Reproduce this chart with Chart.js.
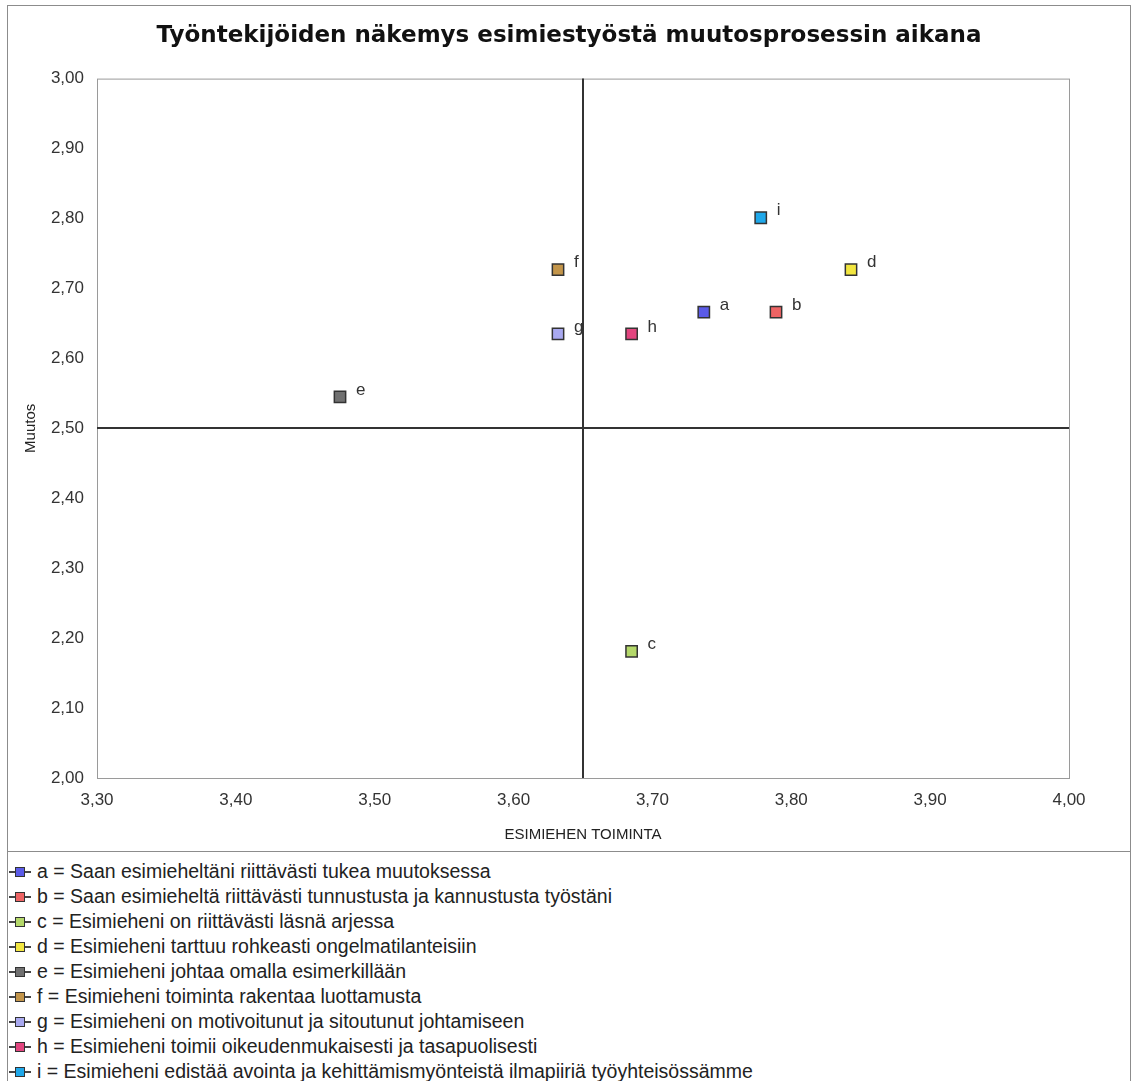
<!DOCTYPE html>
<html>
<head>
<meta charset="utf-8">
<script src="https://cdn.jsdelivr.net/npm/chart.js@4.4.0/dist/chart.umd.min.js"></script>
<style>
  html, body { margin: 0; padding: 0; background: #fff; overflow: hidden; }
  body { font-family: "Liberation Sans", Arial, sans-serif; }
  #frame { position: absolute; left: 7px; top: 5px; width: 1122px; height: 1120px;
           border: 1px solid #8c8c8c; border-bottom: none; }
  #legend { border-top: 1px solid #8c8c8c; padding-top: 7px; }
  .item { height: 25px; display: flex; align-items: center; font-size: 19.5px; color: #222; white-space: nowrap; }
  .mark { position: relative; width: 22px; height: 12px; margin-left: 1px; margin-right: 6px; flex: none; }
  .mark::before { content: ''; position: absolute; left: 0; right: 0; top: 5px; height: 2px; background: #444; }
  .sq { position: absolute; left: 6px; top: 1px; width: 8px; height: 8px; border: 1px solid #333; }
</style>
</head>
<body>
<div id="frame">
  <canvas id="chart" width="1122" height="845" style="display:block;width:1122px;height:845px"></canvas>
  <div id="legend"></div>
</div>
<script>
// data
var letters = ['a', 'b', 'c', 'd', 'e', 'f', 'g', 'h', 'i'];
var statements = [
  'Saan esimieheltäni riittävästi tukea muutoksessa',
  'Saan esimieheltä riittävästi tunnustusta ja kannustusta työstäni',
  'Esimieheni on riittävästi läsnä arjessa',
  'Esimieheni tarttuu rohkeasti ongelmatilanteisiin',
  'Esimieheni johtaa omalla esimerkillään',
  'Esimieheni toiminta rakentaa luottamusta',
  'Esimieheni on motivoitunut ja sitoutunut johtamiseen',
  'Esimieheni toimii oikeudenmukaisesti ja tasapuolisesti',
  'Esimieheni edistää avointa ja kehittämismyönteistä ilmapiiriä työyhteisössämme'
];
var toiminta = [3.737, 3.789, 3.685, 3.843, 3.475, 3.632, 3.632, 3.685, 3.778];
var muutos   = [2.666, 2.666, 2.181, 2.727, 2.545, 2.727, 2.635, 2.635, 2.801];
var colors = ['#5b5be8', '#ee6464', '#b4d86a', '#f2e640', '#707070', '#c3954a', '#a9a9f0', '#e2457f', '#1fa8ea'];
var crossX = 3.65, crossY = 2.50;

var tickFont = { family: '"Liberation Sans", Arial, sans-serif', size: 17 };
var axisTitleFont = { family: '"Liberation Sans", Arial, sans-serif', size: 15 };

var datasets = letters.map(function (l, i) {
  return {
    label: l + ' = ' + statements[i],
    letter: l,
    data: [{ x: toiminta[i], y: muutos[i] }],
    backgroundColor: colors[i],
    borderColor: '#333',
    borderWidth: 1.5,
    pointStyle: 'rect',
    pointRadius: 8,
    pointHoverRadius: 8
  };
});

function fmt(v) { return v.toFixed(2).replace('.', ','); }

// box round the plot, the two cross lines, and letters by the points
var decor = {
  id: 'decor',
  beforeDatasetsDraw: function (chart) {
    var ctx = chart.ctx, a = chart.chartArea;
    var xs = chart.scales.x, ys = chart.scales.y;
    ctx.save();
    ctx.strokeStyle = '#9a9a9a';
    ctx.lineWidth = 1;
    ctx.strokeRect(a.left + 0.5, a.top + 0.5, a.right - a.left, a.bottom - a.top);
    ctx.strokeStyle = '#333';
    ctx.lineWidth = 2;
    var px = Math.round(xs.getPixelForValue(crossX));
    var py = Math.round(ys.getPixelForValue(crossY));
    ctx.beginPath();
    ctx.moveTo(px, a.top); ctx.lineTo(px, a.bottom);
    ctx.moveTo(a.left, py); ctx.lineTo(a.right, py);
    ctx.stroke();
    ctx.restore();
  },
  afterDatasetsDraw: function (chart) {
    var ctx = chart.ctx;
    ctx.save();
    ctx.font = '17px "Liberation Sans", Arial, sans-serif';
    ctx.fillStyle = '#333';
    ctx.textBaseline = 'middle';
    chart.data.datasets.forEach(function (ds, i) {
      var p = chart.getDatasetMeta(i).data[0];
      ctx.fillText(ds.letter, p.x + 16, p.y - 7);
    });
    ctx.restore();
  }
};

new Chart(document.getElementById('chart'), {
  type: 'scatter',
  data: { datasets: datasets },
  options: {
    responsive: false,
    animation: false,
    layout: { padding: { left: 40, right: 40, top: 0, bottom: 0 } },
    plugins: {
      legend: { display: false },
      tooltip: { enabled: false },
      title: {
        display: true,
        text: 'Työntekijöiden näkemys esimiestyöstä muutosprosessin aikana',
        color: '#111',
        font: { family: '"DejaVu Sans", sans-serif', size: 23, weight: 'bold' },
        padding: { top: 16, bottom: 29 }
      }
    },
    scales: {
      x: {
        type: 'linear', min: 3.3, max: 4.0,
        grid: { display: false, drawTicks: false },
        border: { display: false },
        ticks: { stepSize: 0.1, padding: 12, color: '#333', font: tickFont,
                 callback: function (v) { return fmt(v); } },
        title: { display: true, text: 'ESIMIEHEN TOIMINTA', color: '#222', font: axisTitleFont,
                 padding: { top: 0, bottom: 7 } },
        afterFit: function (s) { s.height = 73; }
      },
      y: {
        type: 'linear', min: 2.0, max: 3.0,
        grid: { display: false, drawTicks: false },
        border: { display: false },
        ticks: { stepSize: 0.1, padding: 13, color: '#333', font: tickFont,
                 callback: function (v) { return fmt(v); } },
        title: { display: true, text: 'Muutos', color: '#222', font: axisTitleFont,
                 padding: { top: -26, bottom: 0 } },
        afterFit: function (s) { s.width = 49; }
      },
      // empty right-hand axis: keeps the plot's right margin while the title stays centred on the whole frame
      yRight: {
        type: 'linear', position: 'right', display: true,
        grid: { display: false, drawTicks: false },
        border: { display: false },
        ticks: { display: false },
        afterFit: function (s) { s.width = 21; }
      }
    }
  },
  plugins: [decor]
});

// legend under the chart, one statement per row
var legend = document.getElementById('legend');
datasets.forEach(function (ds, i) {
  var row = document.createElement('div');
  row.className = 'item';
  row.innerHTML = '<span class="mark"><span class="sq" style="background:' + colors[i] + '"></span></span>';
  row.appendChild(document.createTextNode(ds.label));
  legend.appendChild(row);
});
</script>
</body>
</html>
